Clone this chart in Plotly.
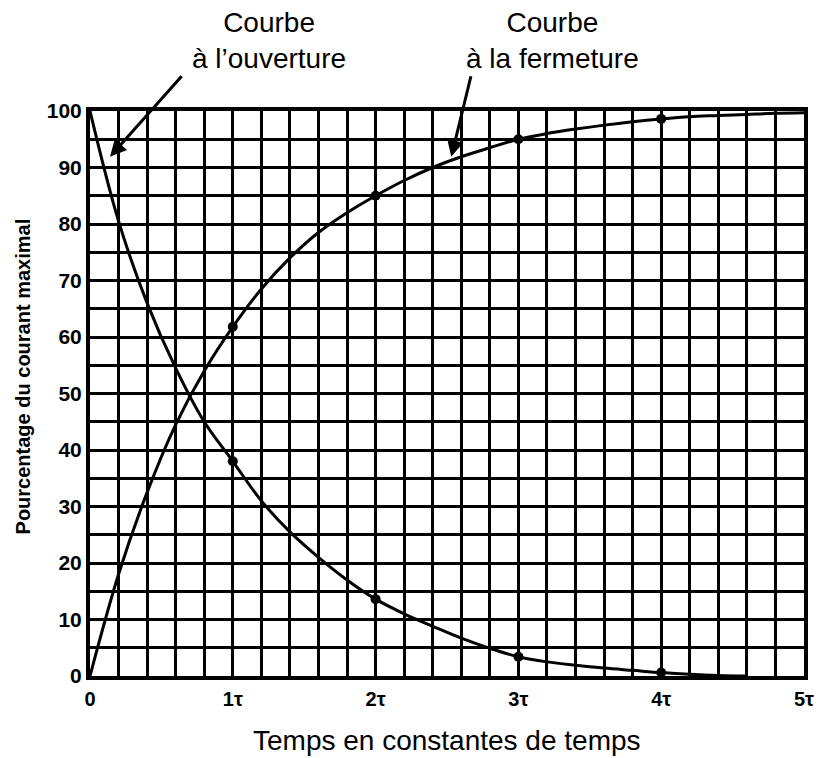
import plotly.graph_objects as go

# Time axis, in time constants (tau)
t_curve = [0.0, 0.2, 0.4, 0.6, 0.8, 1.0, 1.2, 1.4, 1.6, 1.8, 2.0, 2.2, 2.4,
           2.6, 2.8, 3.0, 3.2, 3.4, 3.6, 3.8, 4.0, 4.2, 4.4, 4.6, 4.8, 5.0]

# Current while closing the circuit (% of maximum)
closing_pct = [0.0, 18.0, 32.5, 44.5, 54.0, 61.8, 68.5, 74.0, 78.5, 82.0, 85.0,
               87.7, 90.0, 91.9, 93.5, 95.0, 96.0, 96.8, 97.5, 98.1, 98.6,
               99.0, 99.2, 99.4, 99.6, 99.7]

# Current while opening the circuit (% of maximum)
t_open = [0.0, 0.2, 0.4, 0.6, 0.8, 1.0, 1.2, 1.4, 1.6, 1.8, 2.0, 2.2, 2.4,
          2.6, 2.8, 3.0, 3.2, 3.4, 3.6, 3.8, 4.0, 4.2, 4.4, 4.6]
opening_pct = [100.0, 80.5, 66.0, 54.5, 45.0, 38.0, 31.0, 25.5, 21.0, 17.0,
               13.6, 11.0, 8.8, 6.7, 4.9, 3.4, 2.5, 1.9, 1.4, 1.0, 0.6, 0.3,
               0.1, 0.0]

# Marked points at whole time constants
t_marks = [1, 2, 3, 4]
closing_marks = [61.8, 85.0, 95.0, 98.6]
opening_marks = [38.0, 13.6, 3.4, 0.6]

# Axis ticks
x_tick_vals = [0, 1, 2, 3, 4, 5]
x_tick_text = ["0", "1τ", "2τ", "3τ", "4τ", "5τ"]
y_tick_vals = [0, 10, 20, 30, 40, 50, 60, 70, 80, 90, 100]

INK = "black"
SANS = "Liberation Sans, Arial, sans-serif"

fig = go.Figure()

fig.add_trace(go.Scatter(x=t_curve, y=closing_pct, mode="lines",
                         line=dict(color=INK, width=3, shape="spline"),
                         hoverinfo="skip", showlegend=False))
fig.add_trace(go.Scatter(x=t_open, y=opening_pct, mode="lines",
                         line=dict(color=INK, width=3, shape="spline"),
                         hoverinfo="skip", showlegend=False))
fig.add_trace(go.Scatter(x=t_marks, y=closing_marks, mode="markers",
                         marker=dict(color=INK, size=10), showlegend=False))
fig.add_trace(go.Scatter(x=t_marks, y=opening_marks, mode="markers",
                         marker=dict(color=INK, size=10), showlegend=False))

grid_w = 2.5

fig.update_layout(
    width=826, height=758,
    margin=dict(l=90, r=12, t=111, b=82),
    paper_bgcolor="white", plot_bgcolor="white",
    font=dict(family=SANS, color=INK),
    xaxis=dict(
        range=[0, 5], tickvals=x_tick_vals, ticktext=x_tick_text,
        ticks="", showgrid=True, gridcolor=INK, gridwidth=grid_w,
        minor=dict(dtick=0.2, tick0=0, showgrid=True, gridcolor=INK,
                   gridwidth=grid_w),
        showline=True, linecolor=INK, linewidth=4, mirror=True,
        zeroline=False, ticklabelstandoff=2,
        tickfont=dict(family=SANS, size=20, color=INK, weight="bold"),
    ),
    # small inside ticks along the bottom edge
    xaxis2=dict(
        range=[0, 5], overlaying="x", anchor="y", side="bottom",
        tick0=0, dtick=0.1, ticks="inside", ticklen=9, tickwidth=2.5,
        tickcolor=INK, showticklabels=False, showgrid=False,
        showline=False, zeroline=False,
    ),
    yaxis=dict(
        range=[0, 100], tickvals=y_tick_vals, ticks="",
        showgrid=True, gridcolor=INK, gridwidth=grid_w,
        minor=dict(dtick=5, tick0=0, showgrid=True, gridcolor=INK,
                   gridwidth=grid_w),
        showline=True, linecolor=INK, linewidth=4, mirror=True,
        zeroline=False, ticklabelstandoff=0,
        tickfont=dict(family=SANS, size=21, color=INK, weight="bold"),
    ),
    showlegend=False,
)

# Axis titles
fig.add_annotation(text="Temps en constantes de temps", xref="paper",
                   yref="paper", x=0.5, y=-0.115, showarrow=False,
                   yanchor="middle", font=dict(family=SANS, size=28, color=INK))
fig.add_annotation(text="Pourcentage du courant maximal", xref="paper",
                   yref="paper", x=-0.094, y=0.53, showarrow=False,
                   textangle=-90, xanchor="center", yanchor="middle",
                   font=dict(family=SANS, size=20, color=INK, weight="bold"))

# Curve labels
fig.add_annotation(text="Courbe<br>à l’ouverture", xref="x", yref="paper",
                   x=1.25, y=1.124, showarrow=False, align="center",
                   yanchor="middle", font=dict(family=SANS, size=28, color=INK))
fig.add_annotation(text="Courbe<br>à la fermeture", xref="x", yref="paper",
                   x=3.24, y=1.124, showarrow=False, align="center",
                   yanchor="middle", font=dict(family=SANS, size=28, color=INK))

# Pointer arrows
fig.add_annotation(x=0.14, y=91.9, xref="x", yref="y", ax=73, ay=-82,
                   showarrow=True, arrowhead=2, arrowsize=1.1, arrowwidth=3,
                   arrowcolor=INK, text="")
fig.add_annotation(x=2.53, y=91.9, xref="x", yref="y", ax=20, ay=-82,
                   showarrow=True, arrowhead=2, arrowsize=1.1, arrowwidth=3,
                   arrowcolor=INK, text="")

fig.write_html("out.html")
